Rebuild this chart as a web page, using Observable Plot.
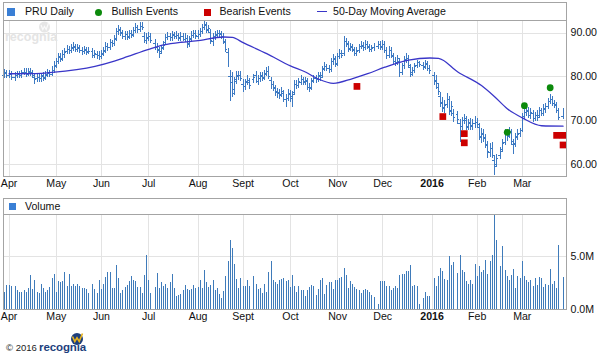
<!DOCTYPE html>
<html><head><meta charset="utf-8">
<script src="https://cdn.jsdelivr.net/npm/d3@7"></script>
<script src="https://cdn.jsdelivr.net/npm/@observablehq/plot@0.6"></script>
<style>
body{margin:0;background:#fff;}
#wrap{position:relative;width:601px;height:357px;font-family:Arial,"Liberation Sans",sans-serif;overflow:hidden;background:#fff;}
.a{position:absolute;white-space:nowrap;}
.t{font-size:10.6px;line-height:13px;color:#111;}
</style></head>
<body><div id="wrap"></div>
<script>
// ---------- data ----------
const holidays = ["2015-04-03","2015-05-25","2015-07-03","2015-09-07","2015-11-26","2015-12-25","2016-01-01","2016-01-18","2016-02-15","2016-03-25"];
const monthLabels = ["Apr","May","Jun","Jul","Aug","Sept","Oct","Nov","Dec","2016","Feb","Mar"];
const priceTicks = [60, 70, 80, 90];
const volTicks = [0, 5];

const open = [
80.2,80.8,
80.4,80.6,79.8,80.3,80.5,80.4,80.9,81.0,80.6,81.1,80.7,79.9,79.5,79.9,79.5,80.2,79.8,80.5,80.9,80.6,81.5,
82.5,83.5,84.5,84.1,85.1,85.7,86.3,86.0,86.5,86.8,86.2,86.5,86.0,85.8,86.1,85.7,85.7,84.8,85.2,84.8,
84.7,85.3,86.0,86.9,86.7,87.8,87.6,88.8,90.3,90.6,89.9,89.2,89.7,89.2,89.9,89.6,90.6,91.2,90.9,91.5,89.3,88.3,
88.9,89.3,87.6,86.8,86.0,85.9,86.8,87.8,89.0,89.2,88.9,89.5,89.3,89.4,88.8,89.2,88.6,88.7,87.6,88.7,89.4,89.8,
89.3,89.7,90.4,91.3,91.8,90.8,90.2,88.1,89.2,89.5,89.9,89.7,89.2,87.9,85.6,80.0,80.0,77.2,79.3,80.1,80.3,
78.3,77.8,79.0,78.7,79.3,80.2,78.9,79.5,80.1,79.9,80.8,81.3,79.1,78.2,77.3,76.7,76.3,76.0,76.2,74.9,75.0,
76.0,75.1,76.4,78.2,78.1,78.8,79.3,78.9,78.9,77.5,77.6,79.1,79.5,79.3,80.1,80.2,81.8,82.3,81.8,81.7,83.4,83.9,
83.1,84.7,85.4,85.3,88.0,87.4,86.4,86.8,86.0,85.3,86.0,86.9,87.0,86.8,87.3,86.8,86.3,86.6,87.0,87.3,
86.9,87.4,86.0,84.9,86.1,84.7,83.5,83.3,83.6,81.0,82.5,84.0,84.1,82.2,80.9,81.5,82.5,83.2,82.6,82.3,82.9,81.9,
80.2,79.0,77.6,75.5,74.2,72.9,73.7,74.7,72.2,71.6,71.3,69.3,68.7,70.0,70.1,68.6,69.5,68.8,69.4,
69.5,68.5,66.2,66.9,65.8,64.2,62.6,63.6,60.8,60.0,62.0,63.4,65.0,66.7,66.6,67.2,64.5,64.7,66.3,67.1,
67.6,71.0,71.8,72.3,71.1,71.6,70.4,71.1,71.2,72.2,71.6,72.5,73.2,74.4,74.8,73.8,73.5,72.2,71.0];
const high = [
81.6,81.4,
81.4,81.2,80.9,81.3,81.3,81.5,81.9,81.8,81.8,81.9,81.4,80.6,80.6,80.6,80.8,80.9,81.1,81.7,81.5,82.4,83.5,
84.3,85.3,85.3,86.0,86.5,87.1,87.0,87.3,87.8,87.3,87.4,87.1,86.7,86.9,86.8,86.6,86.4,86.0,85.9,85.7,
86.0,86.6,87.8,87.6,88.6,88.4,89.4,91.1,91.8,91.3,90.6,90.3,90.4,90.7,90.6,91.2,92.1,91.8,92.4,92.4,90.2,89.8,
90.1,89.9,88.5,87.7,86.8,87.2,88.1,89.6,90.2,89.8,90.4,90.2,90.4,90.0,90.1,89.8,89.8,89.5,89.3,90.3,90.6,90.6,
90.5,91.0,92.0,92.8,92.4,91.7,90.8,89.9,90.3,90.7,90.7,90.4,89.8,88.6,86.4,81.4,81.0,79.9,81.3,81.3,81.1,
79.3,79.4,80.2,79.5,80.6,81.1,80.4,80.9,80.9,81.4,82.2,82.3,79.9,78.9,78.1,77.4,77.1,77.5,76.9,75.9,77.0,
76.8,76.6,79.1,79.1,79.7,80.2,79.9,79.9,79.5,78.4,79.7,80.3,80.3,80.9,80.9,82.4,83.3,82.9,82.6,84.1,85.0,84.7,
85.4,86.2,86.1,89.3,88.8,88.0,87.7,87.4,86.8,86.7,87.5,88.0,87.8,88.2,88.0,87.5,87.2,87.7,88.1,88.0,
88.3,88.1,86.8,87.0,86.8,85.4,84.5,84.9,84.3,83.1,84.6,85.3,84.8,82.9,82.2,83.0,83.8,83.6,83.3,83.8,83.5,82.6,
80.9,80.2,78.5,76.5,75.3,74.6,76.2,75.6,74.4,72.5,72.1,70.2,70.7,71.3,70.9,70.3,70.5,70.3,70.9,
70.5,69.3,68.2,67.9,66.7,65.1,64.7,64.9,61.9,62.2,63.8,65.6,68.0,67.6,68.3,67.9,65.7,67.1,68.0,68.2,
71.6,72.7,73.1,73.0,72.7,72.3,71.8,72.2,73.0,72.8,73.6,73.9,75.0,76.0,75.5,74.6,74.2,72.8,72.8];
const low = [
79.6,79.7,
79.5,79.2,79.0,79.6,79.6,79.7,80.3,79.9,80.0,80.1,79.5,78.3,78.7,78.8,78.8,78.9,79.2,79.8,79.8,80.0,80.8,
81.8,82.8,83.2,83.5,84.3,85.0,85.2,85.4,85.8,85.6,85.6,85.4,84.9,85.1,84.9,85.0,84.1,84.1,84.0,83.7,
83.9,84.6,85.3,85.8,86.0,86.7,86.9,88.1,89.5,89.3,88.5,88.4,88.3,88.5,88.7,88.9,89.9,90.0,90.2,90.5,87.6,87.4,
88.1,87.7,86.1,85.3,84.3,85.1,86.0,87.1,88.2,88.0,88.1,88.5,88.6,88.1,88.1,88.0,87.9,86.5,86.8,87.9,88.7,88.6,
88.5,89.0,89.7,90.5,89.8,89.9,87.3,87.0,88.4,88.8,88.9,88.6,87.4,85.6,82.1,74.3,75.3,75.8,78.3,79.1,78.9,
76.4,76.9,78.0,77.0,78.5,78.4,78.1,78.8,78.9,79.1,80.1,79.3,77.0,76.7,75.6,75.1,74.8,75.3,74.1,73.0,74.3,
74.2,72.9,75.7,77.2,77.3,78.0,78.1,78.1,76.9,76.4,76.9,78.4,78.5,78.6,79.0,79.5,81.1,81.1,80.7,81.0,82.6,82.1,
82.4,84.0,84.1,84.6,86.7,85.5,85.7,85.5,84.6,84.6,85.3,86.2,85.9,86.0,86.2,85.5,85.5,85.9,86.3,86.1,
86.1,85.4,83.9,84.1,84.1,82.8,82.4,82.6,79.8,80.2,81.7,83.1,81.9,79.8,80.1,80.8,81.8,82.1,81.4,81.6,81.3,80.6,
77.9,77.2,75.7,73.0,71.8,71.7,72.7,71.2,71.0,69.6,69.0,65.0,67.6,69.0,67.6,67.6,67.7,67.6,68.2,
68.2,65.4,64.8,64.9,63.6,61.3,61.5,61.3,57.4,59.2,61.1,62.6,64.3,65.3,65.8,64.3,62.3,63.8,65.5,66.1,
67.2,70.2,71.0,70.4,70.3,69.6,69.7,69.7,70.5,70.9,70.9,71.7,72.5,73.7,73.3,72.8,71.7,70.0,70.3];
const close = [
80.9,80.3,
80.5,79.9,80.2,80.6,80.3,80.8,81.1,80.7,81.0,80.9,80.2,79.3,79.8,79.6,80.1,79.7,80.4,80.8,80.5,81.6,82.4,
83.4,84.6,84.0,85.2,85.6,86.4,86.0,86.6,86.9,86.3,86.6,86.1,85.7,86.2,85.6,85.9,84.9,85.3,84.7,84.6,
85.2,85.9,87.0,86.6,87.8,87.5,88.6,90.4,90.8,90.1,89.2,89.6,89.1,90.0,89.4,90.5,91.3,90.8,91.6,91.2,88.4,88.8,
89.2,88.4,86.9,86.2,85.3,86.4,87.2,88.9,89.3,88.8,89.6,89.2,89.5,88.9,89.3,88.7,88.9,87.4,88.6,89.5,89.8,89.4,
89.6,90.3,91.2,92.0,90.6,91.0,88.2,89.1,89.6,90.0,89.8,89.3,88.1,86.3,82.9,78.6,76.1,78.9,80.3,80.4,79.7,
77.4,78.6,79.2,77.9,79.8,79.1,79.6,80.3,79.7,80.6,81.2,80.0,77.8,77.6,76.4,76.1,75.7,76.6,74.8,74.5,76.2,
75.4,75.9,78.3,78.0,78.9,79.4,78.8,79.1,77.6,77.3,79.0,79.6,79.3,80.2,79.8,81.6,82.4,81.9,81.5,83.3,84.1,82.9,
84.6,85.3,84.9,88.1,87.6,86.3,86.9,86.2,85.4,85.9,86.8,87.2,86.6,87.4,86.9,86.2,86.5,86.9,87.4,86.8,
87.3,86.1,84.8,86.2,84.9,83.6,83.2,84.1,80.9,82.3,83.8,84.2,82.6,80.6,81.4,82.3,83.1,82.8,82.2,83.0,82.0,81.4,
79.1,78.4,76.6,73.9,72.8,73.4,74.6,72.1,73.3,70.6,70.2,68.5,69.6,70.4,68.4,69.4,68.6,69.3,69.9,
69.2,66.3,67.1,66.0,64.6,62.8,63.4,62.1,59.4,61.2,62.9,64.8,66.9,66.3,67.4,65.1,64.6,66.2,66.9,67.0,
70.9,71.9,72.1,71.2,71.8,70.3,70.9,70.6,72.3,71.7,72.8,73.1,74.2,74.8,74.0,73.6,72.4,70.8,71.9];
// volume, millions of shares
const volume = [
1.6,2.3,
2.3,2.2,2.2,1.8,1.6,1.6,1.8,1.6,2.0,3.2,1.9,2.7,1.6,1.5,2.4,1.95,1.6,1.8,2.1,2.9,3.3,
1.6,2.6,2.5,2.6,3.5,2.2,3.3,2.2,2.4,2.2,2.4,2.2,2.0,2.0,1.9,1.5,2.4,1.9,1.5,2.7,
1.9,2.4,3.0,3.5,3.5,1.95,1.95,4.15,2.9,1.5,1.8,2.1,2.3,2.6,3.1,2.7,2.6,2.1,2.1,1.5,3.2,5.1,
2.7,1.5,2.1,3.4,1.95,2.5,2.2,2.4,1.95,2.5,3.3,2.0,1.2,1.3,1.4,1.8,2.3,1.9,1.8,1.9,2.3,2.0,
2.1,2.7,2.0,3.7,2.5,2.1,2.3,2.7,1.8,1.95,1.4,1.0,1.7,3.1,4.5,6.5,5.8,4.2,2.8,1.95,2.9,
2.2,2.2,2.7,2.2,3.1,2.4,1.9,2.0,1.5,2.4,1.6,3.5,4.5,2.7,2.5,2.4,2.7,2.8,2.9,2.6,2.7,
2.1,3.2,2.2,1.6,2.2,1.8,1.8,1.2,1.8,2.1,2.3,2.2,1.3,1.9,2.7,2.9,1.4,2.3,2.5,2.5,1.9,2.7,
2.7,2.9,3.0,3.9,3.2,2.0,2.6,2.4,2.1,1.9,1.8,1.5,1.8,1.85,1.8,1.6,1.3,1.1,0.5,2.6,
2.6,2.6,2.2,2.2,1.8,2.0,2.2,2.0,3.2,3.3,3.3,3.6,3.6,4.15,2.2,2.3,2.2,0.5,1.0,1.6,1.2,1.2,
2.9,2.2,3.1,3.9,3.6,2.8,2.7,5.0,4.15,4.47,3.4,5.1,3.7,3.5,2.6,2.4,2.7,2.4,4.25,
3.1,4.05,3.5,3.7,4.6,3.3,4.5,5.1,8.9,6.5,4.05,5.9,3.7,3.1,2.7,3.2,3.75,1.95,3.1,2.9,
4.55,3.1,2.7,2.5,2.7,2.2,2.9,2.3,3.05,2.9,2.1,2.4,2.3,3.75,2.4,2.6,2.0,6.0,3.0];

// 50-day moving average, read at intervals
const maDates = ["2015-04-01","2015-04-22","2015-04-29","2015-05-27","2015-06-09","2015-06-17","2015-07-01","2015-07-10","2015-07-22","2015-07-31","2015-08-19","2015-08-25","2015-09-01","2015-09-16","2015-10-01","2015-10-12","2015-10-20","2015-10-29","2015-11-11","2015-11-20","2015-12-02","2015-12-17","2015-12-31","2016-01-06","2016-01-19","2016-02-03","2016-02-11","2016-02-19","2016-03-01","2016-03-14","2016-03-28"];
const maValues = [80.7,80.8,81.0,82.4,83.6,84.6,86.3,87.3,87.9,88.2,89.1,89.0,87.8,85.3,82.5,81.1,79.5,78.5,79.6,80.7,82.2,83.8,84.3,84.2,81.1,78.0,75.5,72.7,70.6,68.8,68.7];

const bullDates = ["2016-02-19","2016-03-02","2016-03-18"];
const bullValues = [67.3, 73.4, 77.5];
const bearDates = ["2015-11-13","2016-01-08","2016-01-22","2016-01-22","2016-03-23","2016-03-28","2016-03-28"];
const bearValues = [77.8, 70.9, 67.0, 64.9, 66.6, 66.6, 64.4];

// ---------- build slots (weekdays; holidays leave an empty slot) ----------
const slots = [];
for (let t = Date.UTC(2015,2,30); t <= Date.UTC(2016,2,28); t += 864e5) {
  const d = new Date(t), w = d.getUTCDay();
  if (w > 0 && w < 6) slots.push(d.toISOString().slice(0,10));
}
const slotOf = new Map(slots.map((d,i)=>[d,i]));
const tradingDays = slots.filter(d => !holidays.includes(d));
const bars = tradingDays.map((d,i)=>({s: slotOf.get(d), o: open[i], h: high[i], l: low[i], c: close[i], v: volume[i]}));
const monthSlots = [];
for (let i = 1; i < slots.length; i++) if (slots[i].slice(5,7) !== slots[i-1].slice(5,7)) monthSlots.push(i);
const labelOf = new Map(monthSlots.map((s,i)=>[s, monthLabels[i]]));
const ma = maDates.map((d,i)=>({s: slotOf.get(d), v: maValues[i]}));
const bull = bullDates.map((d,i)=>({s: slotOf.get(d), v: bullValues[i]}));
const bear = bearDates.map((d,i)=>({s: slotOf.get(d), v: bearValues[i]}));

const FONT = 'Arial, "Liberation Sans", sans-serif';
const GRID = "#e3e3e3", FRAME = "#a4a4a4", BAR = "#3d7ac3", VOLC = "#3f7bba";
const MA = "#3a36c8", GREEN = "#0c8a0c", RED = "#cc0000";
const XD = [-0.61, 261.6];
const crisp = {shapeRendering: "crispEdges"};

const price = Plot.plot({
  width: 601, height: 192, marginTop: 20, marginBottom: 16, marginLeft: 3, marginRight: 35,
  style: {fontFamily: FONT, fontSize: "10.6px", color: "#111", background: "none", overflow: "visible"},
  x: {domain: XD, axis: null},
  y: {domain: [57.19, 92.88], axis: null},
  marks: [
    Plot.ruleY(priceTicks, {stroke: GRID, ...crisp}),
    Plot.ruleX(monthSlots, {stroke: GRID, ...crisp}),
    Plot.ruleX(bars, {x: "s", y1: "l", y2: "h", stroke: BAR, ...crisp}),
    Plot.ruleY(bars, {y: "o", x1: d => d.s - 0.85, x2: "s", stroke: BAR, ...crisp}),
    Plot.ruleY(bars, {y: "c", x1: "s", x2: d => d.s + 0.85, stroke: BAR, ...crisp}),
    Plot.line(ma, {x: "s", y: "v", stroke: MA, strokeWidth: 1.3, curve: "monotone-x"}),
    Plot.dot(bull, {x: "s", y: "v", r: 3.4, fill: GREEN}),
    Plot.dot(bear, {x: "s", y: "v", r: 3.8, symbol: "square", fill: RED}),
    Plot.frame({stroke: FRAME, ...crisp}),
    Plot.axisY(priceTicks, {anchor: "right", tickSize: 0, tickPadding: 4, tickFormat: d3.format(".2f"), label: null}),
    Plot.axisX(monthSlots, {anchor: "bottom", tickSize: 0, tickPadding: 3, tickFormat: d => labelOf.get(d), label: null})
  ]
});

const vol = Plot.plot({
  width: 601, height: 135, marginTop: 24, marginBottom: 16, marginLeft: 3, marginRight: 35,
  style: {fontFamily: FONT, fontSize: "10.6px", color: "#111", background: "none", overflow: "visible"},
  x: {domain: XD, axis: null},
  y: {domain: [0, 8.96], axis: null},
  marks: [
    Plot.ruleY([5], {stroke: GRID, ...crisp}),
    Plot.ruleX(monthSlots, {stroke: GRID, ...crisp}),
    Plot.ruleX(bars, {x: "s", y1: 0, y2: "v", stroke: VOLC, ...crisp}),
    Plot.frame({stroke: FRAME, ...crisp}),
    Plot.axisY(volTicks, {anchor: "right", tickSize: 0, tickPadding: 4, tickFormat: d => d.toFixed(1) + "M", label: null}),
    Plot.axisX(monthSlots, {anchor: "bottom", tickSize: 0, tickPadding: 3, tickFormat: d => labelOf.get(d), label: null})
  ]
});

for (const svg of [price, vol]) {
  svg.querySelectorAll("text").forEach(t => { if (t.textContent === "2016") t.setAttribute("font-weight", "bold"); });
}

const wrap = document.getElementById("wrap");
wrap.innerHTML = `
 <div class="a" style="left:3px;top:2px;width:564px;height:18px;box-sizing:border-box;border:1px solid ${FRAME};border-bottom:none;"></div>
 <div class="a" style="left:7px;top:8px;width:8px;height:8px;background:#3a7fd5;"></div>
 <div class="a t" style="left:25px;top:5px;">PRU Daily</div>
 <div class="a" style="left:95px;top:8.5px;width:7px;height:7px;border-radius:50%;background:${GREEN};"></div>
 <div class="a t" style="left:111.5px;top:5px;">Bullish Events</div>
 <div class="a" style="left:204px;top:8.5px;width:7px;height:7px;background:${RED};"></div>
 <div class="a t" style="left:219.5px;top:5px;">Bearish Events</div>
 <div class="a" style="left:317px;top:11px;width:10px;height:1.3px;background:${MA};"></div>
 <div class="a t" style="left:333px;top:5px;">50-Day Moving Average</div>
 <div class="a" style="left:3px;top:198px;width:564px;height:16px;box-sizing:border-box;border:1px solid ${FRAME};border-bottom:none;"></div>
 <div class="a" style="left:9px;top:202.5px;width:7px;height:7px;background:#3a7fd5;"></div>
 <div class="a t" style="left:25px;top:199.5px;">Volume</div>
 <div class="a" style="left:6px;top:342px;font-size:9.5px;line-height:12px;color:#222;">© 2016</div>
 <div class="a" style="left:39px;top:341px;font-size:11.5px;line-height:13px;font-weight:bold;color:#1d3f7d;letter-spacing:-0.1px;">recognia</div>
 <svg class="a" style="left:69px;top:331px;" width="16" height="15" viewBox="0 0 16 15">
   <circle cx="8" cy="8" r="6" fill="#1d3f7d"/>
   <path d="M3.5 5.5 L5.8 10.5 L8 6.8 L10.2 10.5 L13.5 2.5" fill="none" stroke="#e8b31c" stroke-width="1.6"/>
 </svg>
`;
const p1 = document.createElement("div"); p1.className = "a"; p1.style.left = "0px"; p1.style.top = "0px"; p1.appendChild(price);
const p2 = document.createElement("div"); p2.className = "a"; p2.style.left = "0px"; p2.style.top = "190px"; p2.appendChild(vol);
wrap.appendChild(p1); wrap.appendChild(p2);
const wm = document.createElement("div");
wm.innerHTML = `<svg class="a" style="left:38px;top:21px;" width="13" height="12"><circle cx="6.5" cy="6" r="5.5" fill="#e6e6e6"/><path d="M3 4 L4.8 8.5 L6.5 5.5 L8.2 8.5 L10.5 2" fill="none" stroke="#fafafa" stroke-width="1.2"/></svg>
 <div class="a" style="left:5px;top:31px;font-size:12.5px;line-height:13px;font-weight:bold;color:#e4e4e4;">recognia</div>`;
wrap.appendChild(wm);

if (tradingDays.length !== close.length || [open, high, low, volume].some(a => a.length !== close.length)) {
  const e = document.createElement("div"); e.className = "a"; e.style.cssText = "left:200px;top:150px;color:red;font-size:14px";
  e.textContent = `length mismatch: days ${tradingDays.length}, o ${open.length} h ${high.length} l ${low.length} c ${close.length} v ${volume.length}`;
  wrap.appendChild(e);
}
</script>
</body></html>
